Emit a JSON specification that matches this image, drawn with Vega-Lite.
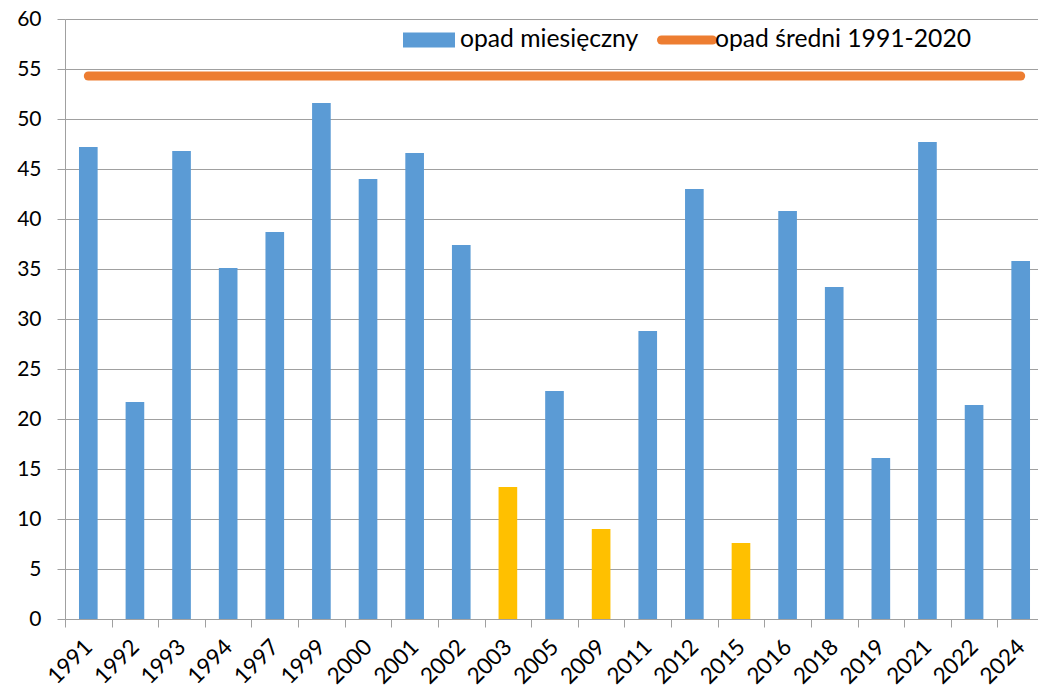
{
  "$schema": "https://vega.github.io/schema/vega-lite/v6.json",
  "autosize": {"type": "none"},
  "width": 979,
  "height": 600,
  "padding": {"left": 65, "top": 19, "right": -6, "bottom": 74},
  "background": "white",
  "config": {
    "font": "Lato",
    "view": {"stroke": null},
    "axis": {"labelFont": "Lato", "labelFontSize": 21, "labelColor": "#000000", "domainColor": "#A0A0A0", "tickColor": "#A0A0A0", "gridColor": "#A0A0A0", "tickSize": 8, "title": null}
  },
  "datasets": {
    "opady": [
      {"rok": "1991", "opad": 47.2, "kat": "opad miesięczny"},
      {"rok": "1992", "opad": 21.7, "kat": "opad miesięczny"},
      {"rok": "1993", "opad": 46.8, "kat": "opad miesięczny"},
      {"rok": "1994", "opad": 35.1, "kat": "opad miesięczny"},
      {"rok": "1997", "opad": 38.7, "kat": "opad miesięczny"},
      {"rok": "1999", "opad": 51.6, "kat": "opad miesięczny"},
      {"rok": "2000", "opad": 44.0, "kat": "opad miesięczny"},
      {"rok": "2001", "opad": 46.6, "kat": "opad miesięczny"},
      {"rok": "2002", "opad": 37.4, "kat": "opad miesięczny"},
      {"rok": "2003", "opad": 13.2, "kat": "niski"},
      {"rok": "2005", "opad": 22.8, "kat": "opad miesięczny"},
      {"rok": "2009", "opad": 9.0, "kat": "niski"},
      {"rok": "2011", "opad": 28.8, "kat": "opad miesięczny"},
      {"rok": "2012", "opad": 43.0, "kat": "opad miesięczny"},
      {"rok": "2015", "opad": 7.6, "kat": "niski"},
      {"rok": "2016", "opad": 40.8, "kat": "opad miesięczny"},
      {"rok": "2018", "opad": 33.2, "kat": "opad miesięczny"},
      {"rok": "2019", "opad": 16.1, "kat": "opad miesięczny"},
      {"rok": "2021", "opad": 47.7, "kat": "opad miesięczny"},
      {"rok": "2022", "opad": 21.4, "kat": "opad miesięczny"},
      {"rok": "2024", "opad": 35.8, "kat": "opad miesięczny"}
    ],
    "srednia": [
      {"rok": "1991", "opad": 54.3, "seria": "opad średni 1991-2020"},
      {"rok": "2024", "opad": 54.3, "seria": "opad średni 1991-2020"}
    ]
  },
  "layer": [
    {
      "data": {"name": "opady"},
      "mark": {"type": "bar", "width": {"band": 0.4}},
      "encoding": {
        "x": {"field": "rok", "type": "nominal", "sort": null,
              "scale": {"paddingInner": 0, "paddingOuter": 0},
              "axis": {"tickBand": "extent", "labelAngle": -45, "labelAlign": "right", "labelBaseline": "middle", "labelPadding": 16, "labelFontSize": 22.5, "grid": false}},
        "y": {"field": "opad", "type": "quantitative",
              "scale": {"domain": [0, 60], "nice": false},
              "axis": {"values": [0,5,10,15,20,25,30,35,40,45,50,55,60], "grid": true, "labelPadding": 16}},
        "fill": {"field": "kat", "type": "nominal",
                 "scale": {"domain": ["opad miesięczny", "niski"], "range": ["#5B9BD5", "#FFC000"]},
                 "legend": {"values": ["opad miesięczny"], "title": null, "orient": "none", "legendX": 338, "legendY": -5,
                            "symbolType": "M-1,-0.29L1,-0.29L1,0.29L-1,0.29Z", "symbolSize": 2704, "symbolStrokeWidth": 0,
                            "labelFontSize": 24.7, "labelLimit": 400, "labelFont": "Lato", "labelColor": "#000000", "labelOffset": 5, "padding": 0, "symbolOffset": 0}}
      }
    },
    {
      "data": {"name": "srednia"},
      "mark": {"type": "line", "strokeWidth": 9, "strokeCap": "round"},
      "encoding": {
        "x": {"field": "rok", "type": "nominal", "sort": null},
        "y": {"field": "opad", "type": "quantitative"},
        "stroke": {"field": "seria", "type": "nominal",
                   "scale": {"range": ["#ED7D31"]},
                   "legend": {"title": null, "orient": "none", "legendX": 592, "legendY": -9,
                              "symbolType": "stroke", "symbolSize": 2601, "symbolStrokeWidth": 9,
                              "labelFontSize": 24.7, "labelLimit": 400, "labelFont": "Lato", "labelColor": "#000000", "labelOffset": -2, "padding": 0, "symbolOffset": 0,
                              "encode": {"symbols": {"update": {"strokeCap": {"value": "round"}}}}}}
      }
    }
  ]
}
